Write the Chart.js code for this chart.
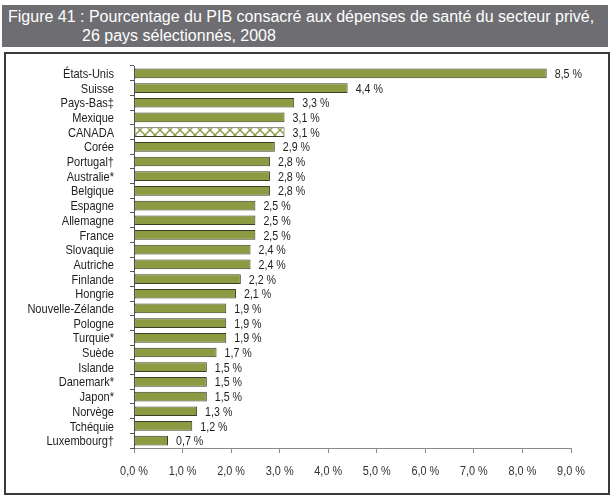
<!DOCTYPE html>
<html><head><meta charset="utf-8">
<script src="https://cdn.jsdelivr.net/npm/chart.js@4"></script>
<style>
html,body{margin:0;padding:0;background:#fff;width:616px;height:501px;overflow:hidden;}
#hdr{position:absolute;left:2px;top:5px;width:606px;height:42px;background:#6e6e72;color:#fff;
 font-family:"Liberation Sans",Arial,sans-serif;font-size:16px;line-height:19px;}
#hdr .l1{position:absolute;left:6px;top:2px;white-space:nowrap;}
#hdr .l2{position:absolute;left:80px;top:21px;white-space:nowrap;}
#frame{position:absolute;left:4px;top:52px;width:602px;height:439px;border:2px solid #3a3a3a;}
#c{position:absolute;left:0;top:0;}
</style></head>
<body>
<div id="hdr"><div class="l1">Figure 41 : Pourcentage du PIB consacré aux dépenses de santé du secteur privé,</div><div class="l2">26 pays sélectionnés, 2008</div></div>
<div id="frame"></div>
<canvas id="c" width="616" height="501"></canvas>
<script>
const categories = ["États-Unis","Suisse","Pays-Bas‡","Mexique","CANADA","Corée","Portugal†","Australie*","Belgique","Espagne","Allemagne","France","Slovaquie","Autriche","Finlande","Hongrie","Nouvelle-Zélande","Pologne","Turquie*","Suède","Islande","Danemark*","Japon*","Norvège","Tchéquie","Luxembourg†"];
const values = [8.5,4.4,3.3,3.1,3.1,2.9,2.8,2.8,2.8,2.5,2.5,2.5,2.4,2.4,2.2,2.1,1.9,1.9,1.9,1.7,1.5,1.5,1.5,1.3,1.2,0.7];
const xTicks = [0,1,2,3,4,5,6,7,8,9];
const highlight = "CANADA";

const OLIVE = "#8c9b41";
const FONT = '"Liberation Sans",Arial,sans-serif';

function makePattern(){
  const p = document.createElement('canvas'); p.width = 10; p.height = 10;
  const g = p.getContext('2d');
  g.fillStyle = '#fff'; g.fillRect(0,0,10,10);
  g.strokeStyle = OLIVE; g.lineWidth = 1.4;
  g.beginPath(); g.moveTo(0,0); g.lineTo(10,10); g.moveTo(10,0); g.lineTo(0,10); g.stroke();
  return document.getElementById('c').getContext('2d').createPattern(p,'repeat');
}
const pat = makePattern();
const fills = categories.map(c => c === highlight ? pat : OLIVE);
const fmt = v => v.toFixed(1).replace('.', ',') + ' %';

function narrowText(ctx, txt, x, y, align, sx){
  ctx.save();
  ctx.translate(x, y);
  ctx.scale(sx, 1);
  ctx.textAlign = align;
  ctx.fillText(txt, 0, 0);
  ctx.restore();
}

const labelPlugin = {
  id: 'vals',
  afterDraw(chart){
    const ctx = chart.ctx;
    const meta = chart.getDatasetMeta(0);
    const yS = chart.scales.y, xS = chart.scales.x;
    ctx.save();
    ctx.font = '13px ' + FONT;
    ctx.fillStyle = '#1e1e1e';
    ctx.textBaseline = 'middle';
    meta.data.forEach((el, i) => {
      narrowText(ctx, fmt(values[i]), el.x + 8, el.y + 1, 'left', 0.82);
      narrowText(ctx, categories[i], yS.right - 20, yS.getPixelForValue(i) + 1, 'right', 0.85);
    });
    ctx.font = '12.5px ' + FONT;
    ctx.fillStyle = '#333';
    xTicks.forEach(v => {
      narrowText(ctx, fmt(v), xS.getPixelForValue(v), 472, 'center', 0.87);
    });
    ctx.restore();
  }
};

new Chart(document.getElementById('c'), {
  type: 'bar',
  data: {
    labels: categories,
    datasets: [{
      data: values,
      backgroundColor: fills,
      borderColor: '#3d3d2a',
      borderWidth: 1,
      borderSkipped: false,
      barPercentage: 0.66,
      categoryPercentage: 1.0
    }]
  },
  options: {
    indexAxis: 'y',
    responsive: false,
    animation: false,
    events: [],
    layout: { padding: { left: 0, right: 45, top: 66, bottom: 19 } },
    plugins: { legend: { display: false }, tooltip: { enabled: false } },
    scales: {
      x: {
        min: 0, max: 9,
        afterFit: s => { s.height = 34; },
        afterBuildTicks: s => { s.ticks = xTicks.map(v => ({ value: v })); },
        grid: { drawOnChartArea: false, drawTicks: true, tickLength: 5, color: '#8a8a8a' },
        border: { display: true, color: '#8a8a8a', width: 1 },
        ticks: { padding: 12, color: 'rgba(0,0,0,0)', font: { family: FONT, size: 12 }, callback: v => fmt(v), maxRotation: 0 }
      },
      y: {
        afterFit: s => { s.width = 134; },
        grid: { offset: true, drawOnChartArea: false, drawTicks: true, tickLength: 4, color: '#555' },
        border: { display: true, color: '#555', width: 1 },
        ticks: { padding: 16, color: 'rgba(0,0,0,0)', font: { family: FONT, size: 12 }, autoSkip: false }
      }
    }
  },
  plugins: [labelPlugin]
});
</script>
</body></html>
